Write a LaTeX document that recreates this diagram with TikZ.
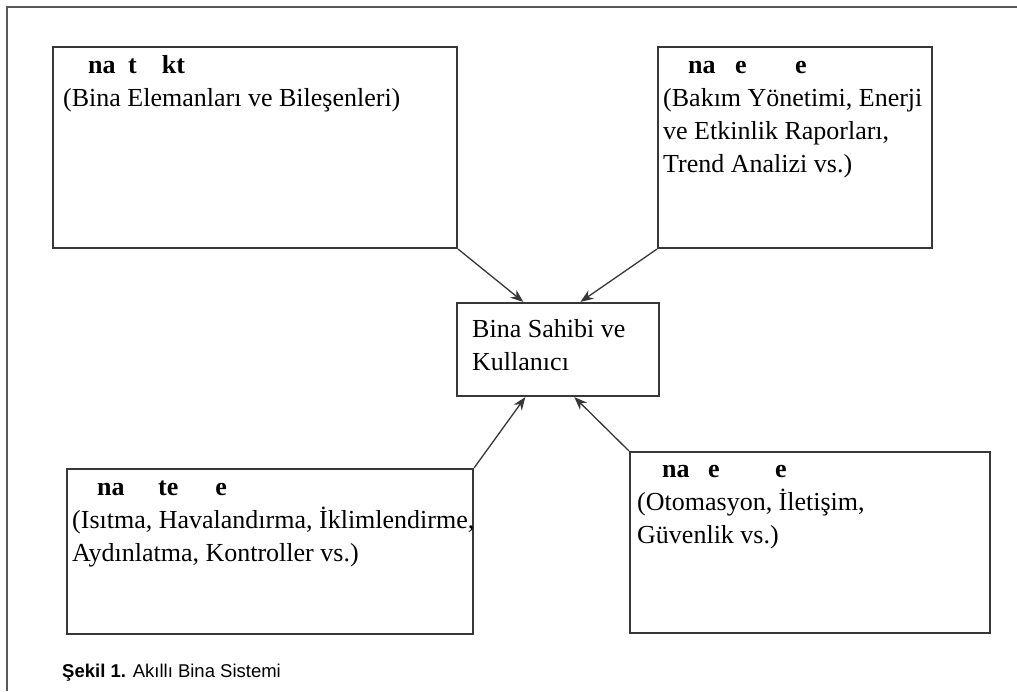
\documentclass[tikz,border=0pt]{standalone}
\usepackage{fontspec}
\setmainfont{Liberation Serif}
\newfontfamily\capfont{Liberation Sans}
\usepackage{xcolor}
\usetikzlibrary{arrows.meta,calc}
\definecolor{edge}{RGB}{55,55,55}
\definecolor{framegray}{RGB}{90,90,90}

\begin{document}
\begin{tikzpicture}[x=1pt,y=-1pt,
  box/.style={draw=edge,line width=2.2pt,minimum width=#1},
  txt/.style={anchor=north west,inner sep=0pt,align=left,
              font=\fontsize{26}{33}\selectfont},
  arr/.style={-{Stealth[length=13pt,width=10pt]},line width=1.3pt,edge}]
\useasboundingbox (0,0) rectangle (1017,691);
\draw[framegray,line width=1.5pt] (7,691)--(7,7)--(1017,7);
% kutular
\node[box=404pt,minimum height=201pt] (yapi) at (255,147.5) {};
\node[box=274pt,minimum height=201pt] (yonetim) at (795,147.5) {};
\node[box=202pt,minimum height=93pt] (sahip) at (558,349.5) {};
\node[box=406pt,minimum height=165pt] (sistem) at (270,551.5) {};
\node[box=360pt,minimum height=181pt] (servis) at (810,542.5) {};
% metinler
\node[txt] (yapitxt) at (63,50) {\strut\hspace*{25pt}\textbf{na\hspace{12.5pt}t\hspace{25pt}kt}\\
  (Bina Elemanları ve Bileşenleri)};
\node[txt] (yonetimtxt) at (663,50) {\strut\hspace*{25pt}\textbf{na\hspace{19.5pt}e\hspace{48.5pt}e}\\
  (Bakım Yönetimi, Enerji\\ve Etkinlik Raporları,\\Trend Analizi vs.)};
\node[txt] (sahiptxt) at (472,314) {\strut Bina Sahibi ve\\Kullanıcı};
\node[txt] (sistemtxt) at (72,472) {\strut\hspace*{25pt}\textbf{na\hspace{33.5pt}te\hspace{37pt}e}\\
  (Isıtma, Havalandırma, İklimlendirme,\\Aydınlatma, Kontroller vs.)};
\node[txt] (servistxt) at (637,454) {\strut\hspace*{25pt}\textbf{na\hspace{18.5pt}e\hspace{55.5pt}e}\\
  (Otomasyon, İletişim,\\Güvenlik vs.)};
\node[anchor=base west,inner sep=0pt,font=\capfont\fontsize{18.5}{22}\selectfont] (sekil) at (62,677)
  {\textbf{Şekil 1.} Akıllı Bina Sistemi};
% oklar
\draw[arr] (yapi.south east)--($(sahip.north west)!0.33!(sahip.north east)$);
\draw[arr] (yonetim.south west)--($(sahip.north west)!0.61!(sahip.north east)$);
\draw[arr] (sistem.north east)--($(sahip.south west)!0.34!(sahip.south east)$);
\draw[arr] (servis.north west)--($(sahip.south west)!0.58!(sahip.south east)$);
\end{tikzpicture}
\end{document}
